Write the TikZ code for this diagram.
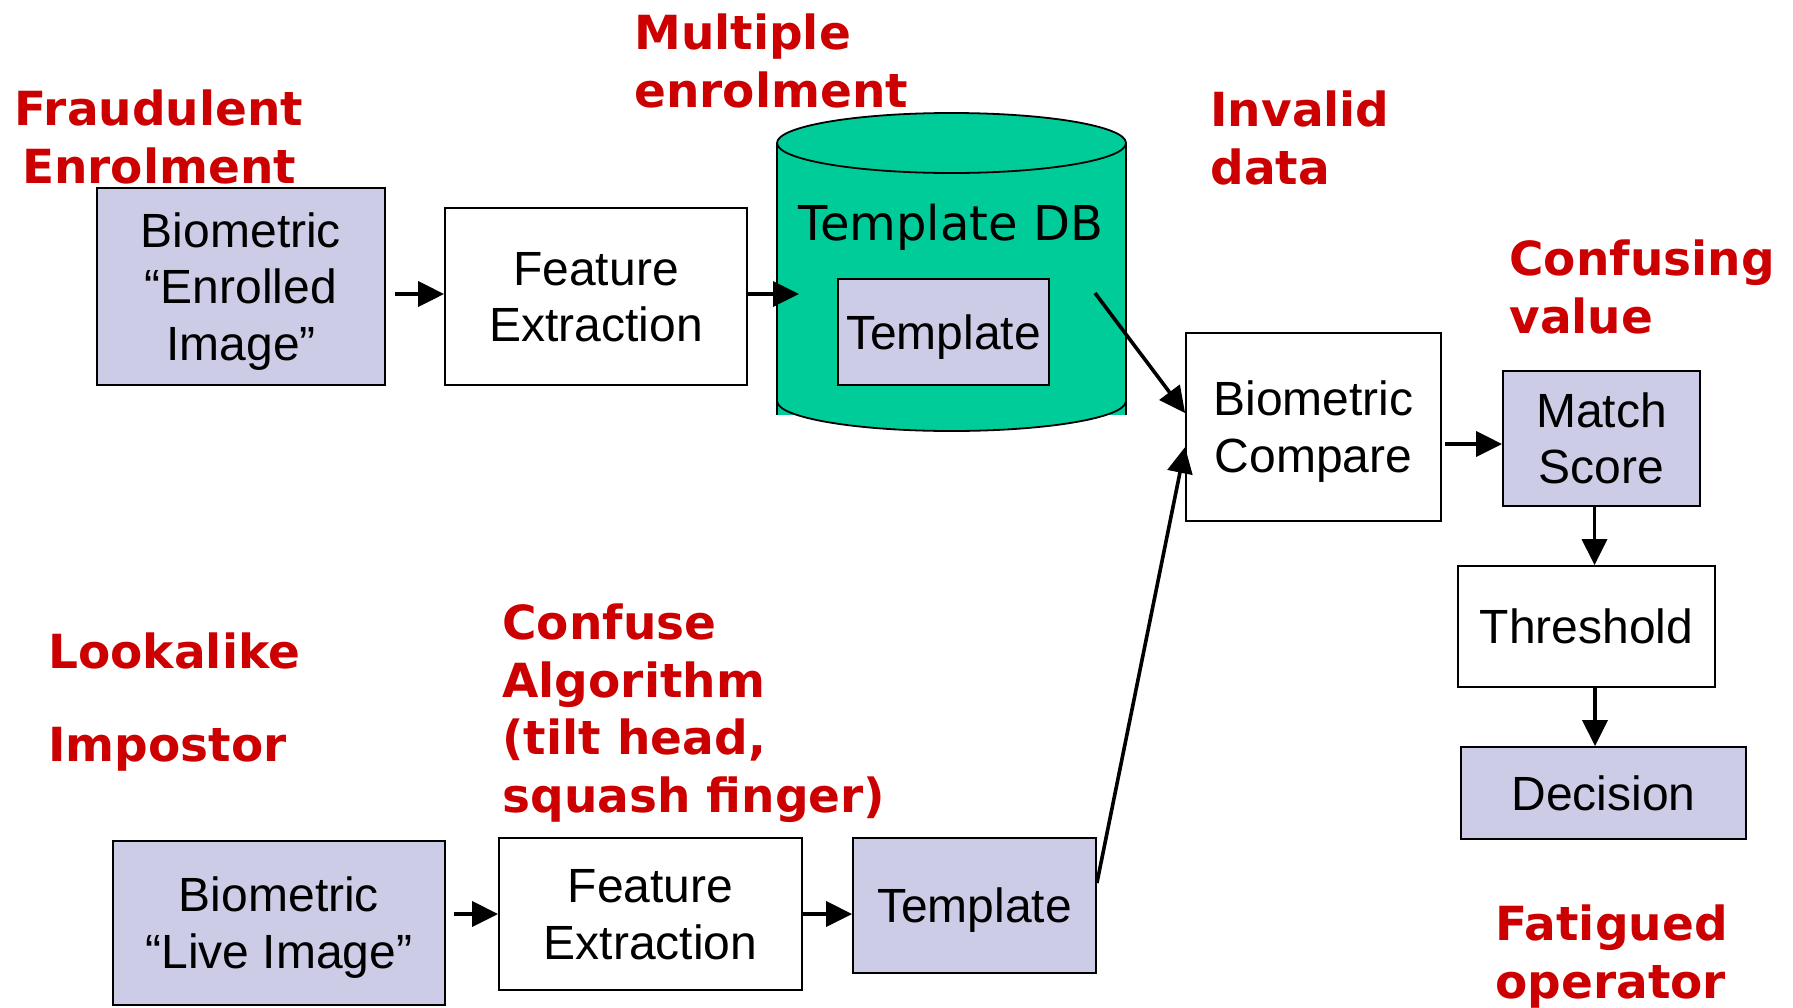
\documentclass[tikz,border=0pt]{standalone}
\usepackage{fontspec}
\setmainfont{Liberation Sans}
\newfontfamily\vfont{DejaVu Sans}
\usetikzlibrary{arrows.meta}
\definecolor{lav}{RGB}{204,204,230}
\definecolor{dbgreen}{RGB}{0,204,153}
\definecolor{warn}{RGB}{204,0,0}
\newcommand\lsa{\rule{0pt}{30pt}}
\newcommand\lsb{\rule[-12.8pt]{0pt}{12.8pt}}
\begin{document}
\begin{tikzpicture}[x=0.5pt,y=-0.5pt,
  box/.style={draw=black, line width=0.9pt, rectangle, inner xsep=0pt, inner ysep=-5pt,
    align=center, font=\fontsize{24}{28.25}\selectfont},
  lbox/.style={box, fill=lav},
  wbox/.style={box, fill=white},
  arr/.style={-{Triangle[length=13pt,width=12.5pt]}, line width=1.8pt},
  warnlbl/.style={text=warn, font=\vfont\bfseries\fontsize{23.5}{28.75}\selectfont,
    inner sep=0pt, align=left, anchor=base west},
]
\useasboundingbox (0,0) rectangle (1793,1007);

% database cylinder
\fill[dbgreen] (777,143) rectangle (1126,415);
\fill[dbgreen] (777,401) arc[start angle=180, end angle=360, x radius=87.25pt, y radius=15pt] -- cycle;
\draw[line width=0.9pt] (777,143) -- (777,415) (1126,143) -- (1126,415);
\draw[line width=0.9pt] (777,401) arc[start angle=180, end angle=360, x radius=87.25pt, y radius=15pt];
\filldraw[fill=dbgreen, line width=0.9pt] (951.5,143) ellipse [x radius=87.25pt, y radius=15pt];
\node[font=\vfont\fontsize{24}{28}\selectfont, anchor=base, inner sep=0pt] (dblbl) at (951,240) {Template DB};
\coordinate (dbin) at (799,294);
\coordinate (dbout) at (1095,293);

% boxes
\node[lbox, minimum width=144pt, minimum height=98.5pt] (enr) at (241,286.5) {\lsa Biometric\\“Enrolled\\Image”\lsb};
\node[wbox, minimum width=151pt, minimum height=88.5pt] (fe1) at (596,296.5) {\lsa Feature\\Extraction\lsb};
\node[lbox, minimum width=105.5pt, minimum height=53pt] (tpl1) at (943.5,332) {\lsa Template\lsb};
\node[wbox, minimum width=127.5pt, minimum height=94pt] (cmp) at (1313.5,427) {\lsa Biometric\\Compare\lsb};
\node[lbox, minimum width=98.5pt, minimum height=67.5pt] (match) at (1601.5,438.5) {\lsa Match\\Score\lsb};
\node[wbox, minimum width=128.5pt, minimum height=60.5pt] (thr) at (1586.5,626.5) {\lsa Threshold\lsb};
\node[lbox, minimum width=142.5pt, minimum height=46pt] (dec) at (1603.5,793) {\lsa Decision\lsb};
\node[lbox, minimum width=166pt, minimum height=82pt] (live) at (279,923) {\lsa Biometric\\“Live Image”\lsb};
\node[wbox, minimum width=151.5pt, minimum height=76pt] (fe2) at (650.5,914) {\lsa Feature\\Extraction\lsb};
\node[lbox, minimum width=121.5pt, minimum height=67.5pt] (tpl2) at (974.5,905.5) {\lsa Template\lsb};

% connectors
\draw[arr] ([shift={(9,7.5)}]enr.east) -- ([shift={(0,-2.5)}]fe1.west);
\draw[arr] ([shift={(0,-2.5)}]fe1.east) -- (dbin);
\draw[arr] (dbout) -- ([shift={(0,-14)}]cmp.west);
\draw[arr] ([shift={(0,-22.5)}]tpl2.east) -- ([shift={(0,20)}]cmp.west);
\draw[arr] ([shift={(3,17)}]cmp.east) -- ([shift={(0,5.5)}]match.west);
\draw[arr] ([shift={(-7,0)}]match.south) -- ([shift={(8,0)}]thr.north);
\draw[arr] ([shift={(8.5,0)}]thr.south) -- ([shift={(-8.5,0)}]dec.north);
\draw[arr] ([shift={(8,-9)}]live.east) -- (fe2.west);
\draw[arr] (fe2.east) -- ([shift={(0,8.5)}]tpl2.west);

% threat labels (anchor = baseline of last line)
\node[warnlbl, align=center, anchor=base] (t1) at (159,183) {Fraudulent\\Enrolment};
\node[warnlbl] (t2) at (634,107) {Multiple\\enrolment};
\node[warnlbl] (t3) at (1210,184) {Invalid\\data};
\node[warnlbl] (t4) at (1509,333) {Confusing\\value};
\node[warnlbl] (t5) at (48,761) {Lookalike\\[17.75pt]Impostor};
\node[warnlbl] (t6) at (502,812) {Confuse\\Algorithm\\(tilt head,\\squash finger)};
\node[warnlbl] (t7) at (1495,998) {Fatigued\\operator};
\end{tikzpicture}
\end{document}
